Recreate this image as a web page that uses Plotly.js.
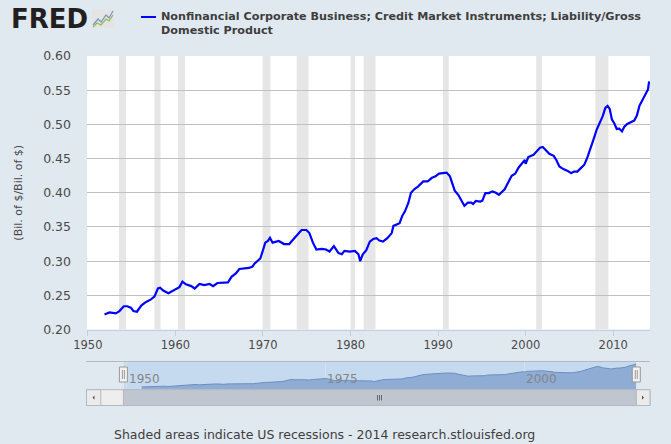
<!DOCTYPE html>
<html>
<head>
<meta charset="utf-8">
<script src="https://cdn.plot.ly/plotly-3.0.1.min.js"></script>
<style>
  html, body { margin: 0; padding: 0; background: #e1e9f0; }
  #chart { width: 671px; height: 444px; }
</style>
</head>
<body>
<div id="chart"></div>
<script>
// Nonfinancial corporate business credit market liabilities / GDP (ratio)
const years = [
  1951.9, 1952.45, 1953.2, 1953.6, 1954.1, 1954.5, 1954.9, 1955.2, 1955.6, 1956.1,
  1956.6, 1957.2, 1957.6, 1958.0, 1958.25, 1958.6, 1959.2, 1959.7, 1960.1, 1960.45,
  1960.8, 1961.2, 1961.8, 1962.2, 1962.75, 1963.3, 1963.9, 1964.3, 1964.8, 1965.4,
  1966.0, 1966.4, 1966.9, 1967.3, 1967.9, 1968.4, 1968.8, 1969.0, 1969.4, 1969.7,
  1970.0, 1970.26, 1970.56, 1970.8, 1971.1, 1971.8, 1972.4, 1973.0, 1973.4, 1974.0,
  1974.4, 1974.95, 1975.3, 1975.7, 1976.1, 1976.7, 1977.2, 1977.6, 1978.1, 1978.6,
  1979.0, 1979.3, 1979.9, 1980.5, 1980.9, 1981.1, 1981.4, 1981.8, 1982.2, 1982.6,
  1982.96, 1983.3, 1983.7, 1984.2, 1984.7, 1984.9, 1985.25, 1985.6, 1985.9, 1986.2,
  1986.6, 1986.9, 1987.3, 1987.7, 1988.3, 1988.8, 1989.25, 1989.7, 1990.1, 1990.6,
  1990.97, 1991.35, 1991.6, 1991.9, 1992.3, 1992.7, 1993.0, 1993.4, 1993.8, 1994.0,
  1994.3, 1994.8, 1995.05, 1995.4, 1995.8, 1996.2, 1996.6, 1996.95, 1997.6, 1998.0,
  1998.4, 1998.8, 1999.2, 1999.55, 1999.9, 2000.0, 2000.3, 2000.9, 2001.3, 2001.65,
  2001.95, 2002.3, 2002.7, 2003.2, 2003.5, 2003.85, 2004.3, 2004.8, 2005.2, 2005.5,
  2005.9, 2006.3, 2006.7, 2007.06, 2007.45, 2007.8, 2008.1, 2008.5, 2008.8, 2009.1,
  2009.35, 2009.6, 2009.85, 2010.1, 2010.4, 2010.7, 2011.0, 2011.25, 2011.6, 2012.06,
  2012.4, 2012.7, 2013.0, 2013.4, 2013.8, 2013.97, 2014.1
]
const ratio = [
  0.222, 0.225, 0.2235, 0.227, 0.234, 0.234, 0.232, 0.227, 0.226, 0.235,
  0.240, 0.244, 0.248, 0.260, 0.261, 0.257, 0.253, 0.257, 0.259, 0.262,
  0.270, 0.266, 0.2635, 0.260, 0.2665, 0.265, 0.2665, 0.2635, 0.268, 0.269,
  0.269, 0.277, 0.282, 0.2885, 0.2895, 0.290, 0.292, 0.296, 0.3005, 0.304,
  0.316, 0.327, 0.3295, 0.334, 0.327, 0.3295, 0.325, 0.325, 0.331, 0.340,
  0.3455, 0.3455, 0.341, 0.327, 0.317, 0.318, 0.317, 0.314, 0.322, 0.312,
  0.310, 0.315, 0.314, 0.315, 0.310, 0.300, 0.310, 0.316, 0.3285, 0.3325,
  0.3335, 0.330, 0.3285, 0.3335, 0.341, 0.3515, 0.353, 0.3555, 0.366, 0.3725,
  0.385, 0.400, 0.4055, 0.409, 0.4165, 0.4165, 0.4215, 0.424, 0.428, 0.4285,
  0.4295, 0.424, 0.414, 0.403, 0.397, 0.387, 0.381, 0.3855, 0.3855, 0.3835,
  0.388, 0.387, 0.3885, 0.3995, 0.3995, 0.402, 0.400, 0.397, 0.405, 0.415,
  0.4248, 0.4277, 0.437, 0.4424, 0.448, 0.4424, 0.4522, 0.4556, 0.462, 0.466,
  0.467, 0.463, 0.457, 0.454, 0.448, 0.4385, 0.4346, 0.432, 0.4287, 0.431,
  0.431, 0.436, 0.441, 0.452, 0.4654, 0.480, 0.492, 0.503, 0.512, 0.524,
  0.527, 0.5226, 0.507, 0.502, 0.4933, 0.4937, 0.4897, 0.4962, 0.5006, 0.5035,
  0.5055, 0.5128, 0.5274, 0.537, 0.547, 0.551, 0.563
]

// NBER recessions (start, end)
const recStart = [1953.55, 1957.6, 1960.3, 1969.95, 1973.85, 1980.0, 1981.5, 1990.55, 2001.2, 2007.95]
const recEnd   = [1954.35, 1958.3, 1961.1, 1970.85, 1975.2, 1980.5, 1982.85, 1991.2, 2001.85, 2009.45]

const xTicks = [1950, 1960, 1970, 1980, 1990, 2000, 2010]
const yTicks = [0.20, 0.25, 0.30, 0.35, 0.40, 0.45, 0.50, 0.55, 0.60]
const navTicks = [1950, 1975, 2000]

const seriesName = "Nonfinancial Corporate Business; Credit Market Instruments; Liability/Gross"
const seriesName2 = "Domestic Product"

// pixel -> paper helpers for the page furniture
const W = 671, H = 444
const px = (x) => x / W
const py = (y) => 1 - y / H

const font = "DejaVu Sans, Verdana, sans-serif"

const data = [
  { x: years, y: ratio, mode: 'lines', line: { color: '#0000ff', width: 2.2 },
    xaxis: 'x', yaxis: 'y', hoverinfo: 'skip', showlegend: false },
  // navigator area
  { x: years, y: ratio, mode: 'lines', fill: 'tozeroy', fillcolor: '#8eacd4',
    line: { color: '#6b8fc3', width: 1 }, xaxis: 'x2', yaxis: 'y2', hoverinfo: 'skip', showlegend: false },
]

const shapes = []
for (let i = 0; i < recStart.length; i++) {
  shapes.push({ type: 'rect', xref: 'x', yref: 'y domain', x0: recStart[i], x1: recEnd[i], y0: 0, y1: 1,
    fillcolor: '#e6e6e6', line: { width: 0 }, layer: 'below' })
}

// legend line
shapes.push({ type: 'line', xref: 'paper', yref: 'paper', x0: px(141), x1: px(156), y0: py(17), y1: py(17),
  line: { color: '#0000ff', width: 2 } })

// FRED logo icon
shapes.push({ type: 'rect', xref: 'paper', yref: 'paper', x0: px(92), x1: px(114), y0: py(28), y1: py(9),
  fillcolor: '#e4e4e4', line: { width: 0 } })
shapes.push({ type: 'path', xref: 'paper', yref: 'paper',
  path: `M ${px(93)} ${py(25)} L ${px(98)} ${py(19)} L ${px(101)} ${py(22)} L ${px(106)} ${py(15)} L ${px(109)} ${py(18)} L ${px(113)} ${py(11)}`,
  line: { color: '#7d95b8', width: 1.2 } })
shapes.push({ type: 'path', xref: 'paper', yref: 'paper',
  path: `M ${px(93)} ${py(27)} L ${px(97)} ${py(23)} L ${px(101)} ${py(25)} L ${px(106)} ${py(19)} L ${px(109)} ${py(21)} L ${px(113)} ${py(15)}`,
  line: { color: '#8dbb4c', width: 1.2 } })

// navigator frame + scrollbar
shapes.push({ type: 'line', xref: 'paper', yref: 'paper', x0: px(86), x1: px(650), y0: py(361.5), y1: py(361.5),
  line: { color: '#b4b9c0', width: 1 } })
shapes.push({ type: 'rect', xref: 'paper', yref: 'paper', x0: px(123.4), x1: px(636.3), y0: py(389.7), y1: py(361.5),
  fillcolor: '#c6daef', line: { width: 0 }, layer: 'below' })
shapes.push({ type: 'rect', xref: 'paper', yref: 'paper', x0: px(86.5), x1: px(650), y0: py(405.5), y1: py(389.7),
  fillcolor: '#eeeeee', line: { color: '#b4b9c0', width: 1 } })
shapes.push({ type: 'rect', xref: 'paper', yref: 'paper', x0: px(123.4), x1: px(636.3), y0: py(405.5), y1: py(389.7),
  fillcolor: '#bfc6cf', line: { color: '#b4b9c0', width: 1 } })
shapes.push({ type: 'rect', xref: 'paper', yref: 'paper', x0: px(86.5), x1: px(100.8), y0: py(405.5), y1: py(389.7),
  fillcolor: '#ebebeb', line: { color: '#b4b9c0', width: 1 } })
shapes.push({ type: 'rect', xref: 'paper', yref: 'paper', x0: px(636.3), x1: px(650), y0: py(405.5), y1: py(389.7),
  fillcolor: '#ebebeb', line: { color: '#b4b9c0', width: 1 } })
shapes.push({ type: 'path', xref: 'paper', yref: 'paper',
  path: `M ${px(94.5)} ${py(395.5)} L ${px(92.5)} ${py(397.6)} L ${px(94.5)} ${py(399.7)} Z`,
  fillcolor: '#555555', line: { width: 0 } })
shapes.push({ type: 'path', xref: 'paper', yref: 'paper',
  path: `M ${px(642)} ${py(395.5)} L ${px(644)} ${py(397.6)} L ${px(642)} ${py(399.7)} Z`,
  fillcolor: '#555555', line: { width: 0 } })
for (const gx of [377.5, 379.5, 381.5]) {
  shapes.push({ type: 'line', xref: 'paper', yref: 'paper', x0: px(gx), x1: px(gx), y0: py(395), y1: py(400.5),
    line: { color: '#666666', width: 1 } })
}
// navigator handles
for (const hx of [123.4, 636.3]) {
  shapes.push({ type: 'rect', xref: 'paper', yref: 'paper', x0: px(hx - 4), x1: px(hx + 4), y0: py(382), y1: py(367),
    fillcolor: '#f2f2f2', line: { color: '#999999', width: 1 } })
  shapes.push({ type: 'line', xref: 'paper', yref: 'paper', x0: px(hx - 1), x1: px(hx - 1), y0: py(379), y1: py(370),
    line: { color: '#999999', width: 1 } })
  shapes.push({ type: 'line', xref: 'paper', yref: 'paper', x0: px(hx + 1), x1: px(hx + 1), y0: py(379), y1: py(370),
    line: { color: '#999999', width: 1 } })
}

const annotations = [
  { text: "<b>FRED</b>", xref: 'paper', yref: 'paper', x: px(9), y: py(19), xanchor: 'left', yanchor: 'middle',
    showarrow: false, font: { family: "DejaVu Sans, sans-serif", size: 26, color: '#231f20' } },
  { text: "<b>" + seriesName + "</b>", xref: 'paper', yref: 'paper', x: px(159), y: py(17), xanchor: 'left', yanchor: 'middle',
    showarrow: false, font: { family: font, size: 11.2, color: '#3e3e3e' } },
  { text: "<b>" + seriesName2 + "</b>", xref: 'paper', yref: 'paper', x: px(159), y: py(31), xanchor: 'left', yanchor: 'middle',
    showarrow: false, font: { family: font, size: 11.2, color: '#3e3e3e' } },
  { text: "Shaded areas indicate US recessions - 2014 research.stlouisfed.org", xref: 'paper', yref: 'paper',
    x: px(112), y: py(434), xanchor: 'left', yanchor: 'middle', showarrow: false,
    font: { family: font, size: 12.5, color: '#3e3e3e' } },
]
for (const t of navTicks) {
  annotations.push({ text: String(t), xref: 'x2', yref: 'paper', x: t, y: py(379), xanchor: 'left', yanchor: 'middle',
    xshift: 0, showarrow: false, font: { family: font, size: 12, color: '#858585' } })
}

const layout = {
  width: W, height: H,
  margin: { l: 0, r: 0, t: 0, b: 0 },
  paper_bgcolor: '#e1e9f0',
  plot_bgcolor: '#ffffff',
  showlegend: false,
  xaxis: {
    domain: [px(87), px(650)], range: [1949.9, 2014.2],
    tickvals: xTicks, ticktext: xTicks.map(String),
    showgrid: false, zeroline: false,
    showline: true, linecolor: '#c0d0e0', linewidth: 1,
    ticks: 'outside', ticklen: 5, tickcolor: '#c0d0e0',
    tickfont: { family: font, size: 11.5, color: '#4a4a4a' },
    fixedrange: true,
  },
  yaxis: {
    domain: [py(329.5), py(56)], range: [0.20, 0.60],
    tickvals: yTicks, ticktext: yTicks.map(v => v.toFixed(2)),
    showgrid: true, gridcolor: '#c0c0c0', gridwidth: 1, zeroline: false,
    showline: false, ticks: '', ticklabelstandoff: 15,
    tickfont: { family: font, size: 12.5, color: '#4a4a4a' },
    title: { text: "(Bil. of $/Bil. of $)", standoff: 18, font: { family: font, size: 11, color: '#4a4a4a' } },
    fixedrange: true,
  },
  xaxis2: {
    domain: [px(123.4), px(636.3)], range: [1949.6, 2014.1], anchor: 'y2',
    tickvals: navTicks, showticklabels: false,
    showgrid: true, gridcolor: '#d6e2ee', zeroline: false, showline: false, fixedrange: true,
  },
  yaxis2: {
    domain: [py(389.7), py(361.5)], range: [0.18, 0.60], anchor: 'x2',
    showgrid: false, showticklabels: false, zeroline: false, showline: false, fixedrange: true,
  },
  shapes: shapes,
  annotations: annotations,
}

Plotly.newPlot('chart', data, layout, { displayModeBar: false, staticPlot: true })
</script>
</body>
</html>
